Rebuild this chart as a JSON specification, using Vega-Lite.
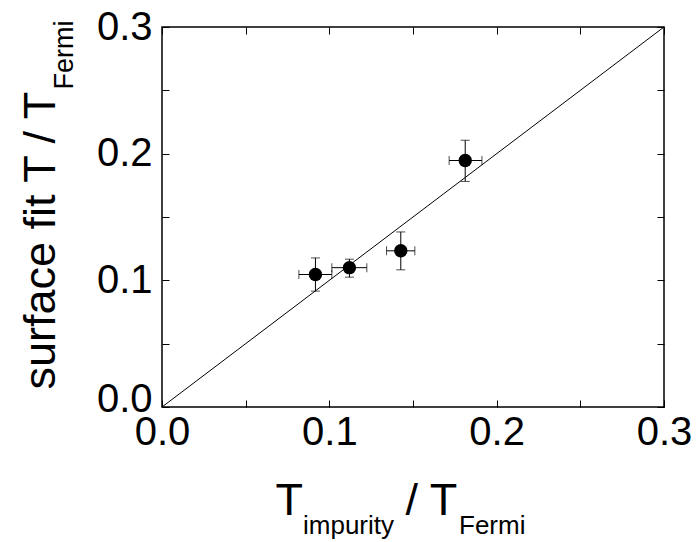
{
  "$schema": "https://vega.github.io/schema/vega-lite/v6.json",
  "width": 502,
  "height": 380,
  "autosize": {"type": "none"},
  "padding": {"left": 162, "top": 27, "right": 36, "bottom": 135},
  "background": "white",
  "config": {
    "view": {"stroke": "black", "strokeWidth": 1.5},
    "font": "Liberation Sans",
    "axis": {
      "grid": false,
      "domain": false,
      "ticks": true,
      "tickSize": -7,
      "tickColor": "black",
      "tickWidth": 1,
      "labelColor": "black",
      "titleColor": "black",
      "labelFont": "Liberation Sans",
      "titleFont": "Liberation Sans",
      "titleFontWeight": "normal",
      "labelFontSize": 40,
      "labelOverlap": false,
      "labelFlush": false,
      "labelBound": false
    }
  },
  "datasets": {
    "pts": [
      {"x": 0.0917, "y": 0.1046, "xlo": 0.0818, "xhi": 0.1015, "ylo": 0.0915, "yhi": 0.1177},
      {"x": 0.112, "y": 0.110, "xlo": 0.1015, "xhi": 0.1224, "ylo": 0.1025, "yhi": 0.1167},
      {"x": 0.1427, "y": 0.1233, "xlo": 0.1342, "xhi": 0.1511, "ylo": 0.1083, "yhi": 0.1382},
      {"x": 0.1812, "y": 0.1946, "xlo": 0.1716, "xhi": 0.1912, "ylo": 0.1781, "yhi": 0.2106}
    ],
    "diag": [
      {"x": 0, "y": 0},
      {"x": 0.3, "y": 0.3}
    ]
  },
  "resolve": {"axis": {"x": "independent", "y": "independent"}},
  "layer": [
    {
      "data": {"name": "diag"},
      "mark": {"type": "line", "color": "black", "strokeWidth": 1},
      "encoding": {
        "x": {
          "field": "x", "type": "quantitative",
          "scale": {"domain": [0, 0.3], "nice": false, "zero": false},
          "axis": {
            "orient": "bottom",
            "values": [0, 0.05, 0.1, 0.15, 0.2, 0.25, 0.3],
            "labelExpr": "(round(datum.value*100) % 10 == 0) ? format(datum.value, '.1f') : ''",
            "labelPadding": 12,
            "title": "T\u2003\u2003 / T",
            "titleFontSize": 45,
            "titleAngle": 0,
            "titleAlign": "left",
            "titleBaseline": "alphabetic",
            "titleX": 113,
            "titleY": 107
          }
        },
        "y": {
          "field": "y", "type": "quantitative",
          "scale": {"domain": [0, 0.3], "nice": false, "zero": false},
          "axis": {
            "orient": "left",
            "values": [0, 0.05, 0.1, 0.15, 0.2, 0.25, 0.3],
            "labelExpr": "(round(datum.value*100) % 10 == 0) ? format(datum.value, '.1f') : ''",
            "labelPadding": 17,
            "labelOffset": {"condition": {"test": "datum.value === 0", "value": -8}, "value": 0},
            "title": "surface fit T / T",
            "titleFontSize": 45,
            "titleAngle": 270,
            "titleAlign": "left",
            "titleBaseline": "alphabetic",
            "titleX": -108,
            "titleY": 362
          }
        }
      }
    },
    {
      "data": {"name": "pts"},
      "mark": {"type": "errorbar", "color": "black", "ticks": {"size": 9, "color": "black"}, "rule": {"strokeWidth": 1}},
      "encoding": {
        "x": {"field": "xlo", "type": "quantitative", "axis": null},
        "x2": {"field": "xhi"},
        "y": {"field": "y", "type": "quantitative", "axis": null}
      }
    },
    {
      "data": {"name": "pts"},
      "mark": {"type": "errorbar", "color": "black", "ticks": {"size": 9, "color": "black"}, "rule": {"strokeWidth": 1}},
      "encoding": {
        "y": {"field": "ylo", "type": "quantitative", "axis": null},
        "y2": {"field": "yhi"},
        "x": {"field": "x", "type": "quantitative", "axis": null}
      }
    },
    {
      "data": {"name": "pts"},
      "mark": {"type": "circle", "color": "black", "opacity": 1, "size": 180},
      "encoding": {
        "x": {
          "field": "x", "type": "quantitative",
          "axis": {
            "orient": "top",
            "values": [0, 0.05, 0.1, 0.15, 0.2, 0.25, 0.3],
            "labels": false,
            "title": "impurity\u2003\u2003\u2002Fermi",
            "titleFontSize": 26,
            "titleAngle": 0,
            "titleAlign": "left",
            "titleBaseline": "alphabetic",
            "titleX": 140.5,
            "titleY": 506
          }
        },
        "y": {
          "field": "y", "type": "quantitative",
          "axis": {
            "orient": "right",
            "values": [0, 0.05, 0.1, 0.15, 0.2, 0.25, 0.3],
            "labels": false,
            "title": "Fermi",
            "titleFontSize": 27,
            "titleAngle": 270,
            "titleAlign": "left",
            "titleBaseline": "alphabetic",
            "titleX": -592,
            "titleY": 62
          }
        }
      }
    }
  ]
}
